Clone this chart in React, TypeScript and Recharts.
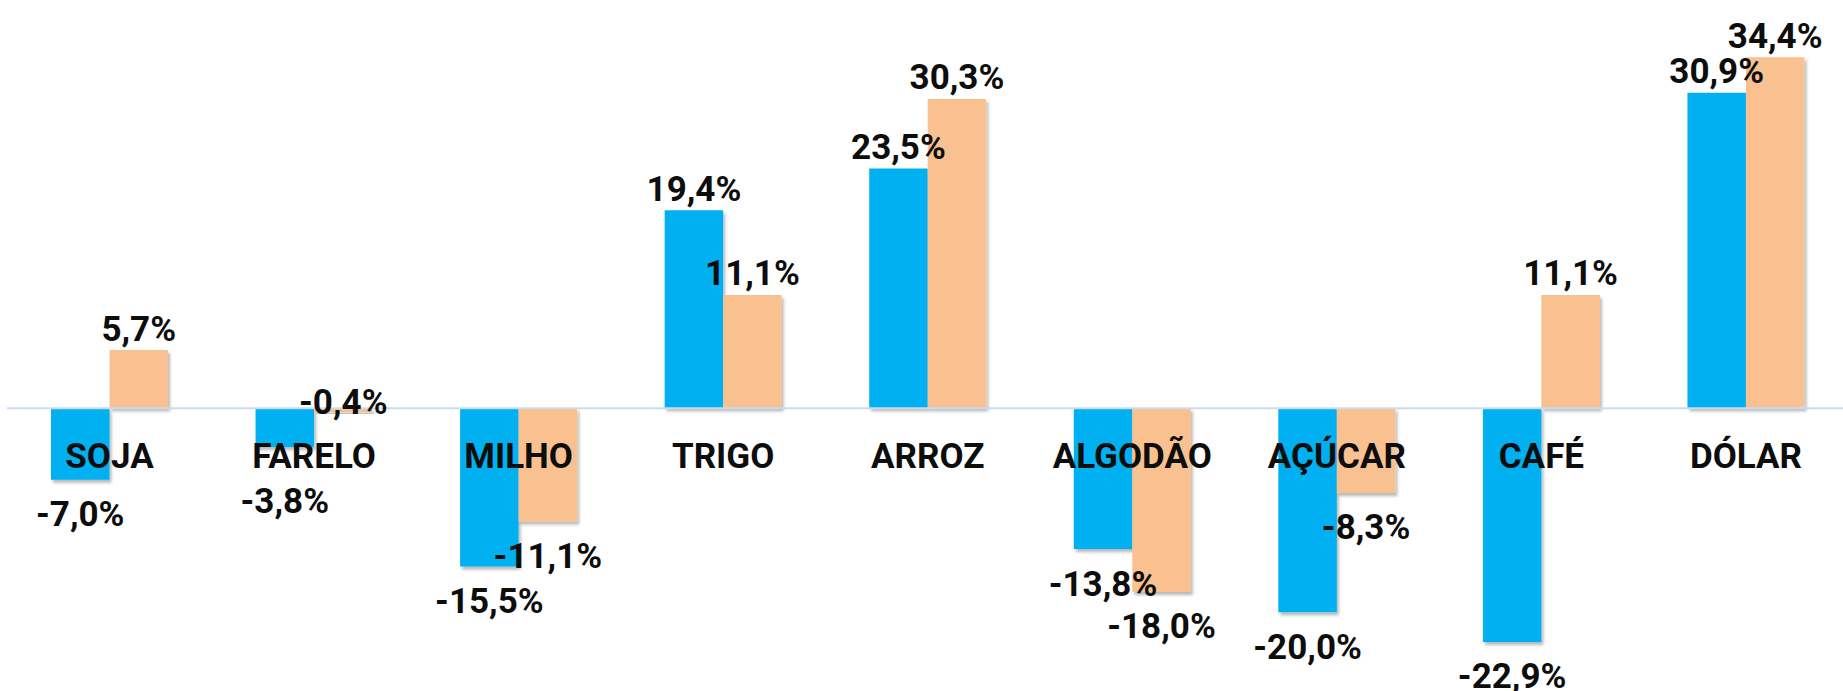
import { BarChart, Bar, XAxis, YAxis, ReferenceLine, LabelList } from 'recharts';

const CATEGORIES = ['SOJA', 'FARELO', 'MILHO', 'TRIGO', 'ARROZ', 'ALGODÃO', 'AÇÚCAR', 'CAFÉ', 'DÓLAR'];
const SERIES_BLUE = [-7.0, -3.8, -15.5, 19.4, 23.5, -13.8, -20.0, -22.9, 30.9];
const SERIES_ORANGE = [5.7, -0.4, -11.1, 11.1, 30.3, -18.0, -8.3, 11.1, 34.4];

const data = CATEGORIES.map((name, i) => ({
  name,
  blue: SERIES_BLUE[i],
  orange: SERIES_ORANGE[i],
}));

const FONT = 'Roboto, "Noto Sans", sans-serif';

const fmt = (v: number) => v.toFixed(1).replace('.', ',') + '%';

// value label: above positive bars, below negative ones (kept clear of the category names)
function ValueLabel(props: any) {
  const { x, y, width, height, value } = props;
  const top = Math.min(y, y + height);
  const bottom = Math.max(y, y + height);
  const cx = x + width / 2;
  let cy: number;
  if (value >= 0) cy = top - 22;
  else if (value > -1) cy = top - 7;
  else cy = Math.max(bottom + 34, top + 92);
  return (
    <text x={cx} y={cy + 12.5} textAnchor="middle" fontFamily={FONT} fontWeight={700} fontSize={35} fill="#0d0d0d">
      {fmt(value)}
    </text>
  );
}

// category names sit just under the zero line, centred on the pair of bars
function CategoryLabel(props: any) {
  const { x, y, height, value, index } = props;
  const v = SERIES_ORANGE[index] ?? 0;
  const zero = v >= 0 ? Math.max(y, y + height) : Math.min(y, y + height);
  return (
    <text x={x} y={zero + 60} textAnchor="middle" fontFamily={FONT} fontWeight={700} fontSize={35} fill="#0d0d0d">
      {value}
    </text>
  );
}

export default function App() {
  return (
    <div style={{ width: 1843, height: 691, overflow: 'hidden', background: '#fff' }}>
      <style>{'body{margin:0}'}</style>
      <BarChart
        width={1848}
        height={694}
        data={data}
        margin={{ top: 0, right: 0, left: 7, bottom: 0 }}
        barGap={0}
        barSize={58.5}
      >
        <defs>
          <filter id="barShadow" x="-10%" y="-10%" width="130%" height="130%">
            <feDropShadow dx="2" dy="3" stdDeviation="1.5" floodColor="#000" floodOpacity="0.28" />
          </filter>
        </defs>
        <XAxis dataKey="name" hide />
        <YAxis hide domain={[-28, 40]} allowDataOverflow />
        <ReferenceLine y={0} stroke="#c9dbf1" strokeWidth={2} />
        <Bar dataKey="blue" fill="#00B0F0" filter="url(#barShadow)" isAnimationActive={false}>
          <LabelList dataKey="blue" content={<ValueLabel />} />
        </Bar>
        <Bar dataKey="orange" fill="#F8C18F" filter="url(#barShadow)" isAnimationActive={false}>
          <LabelList dataKey="orange" content={<ValueLabel />} />
          <LabelList dataKey="name" content={<CategoryLabel />} />
        </Bar>
      </BarChart>
    </div>
  );
}
